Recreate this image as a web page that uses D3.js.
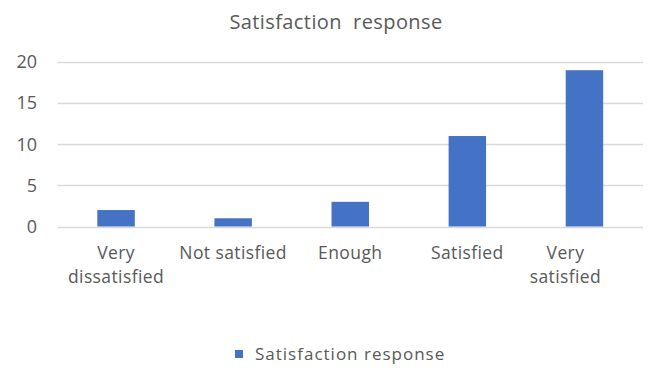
<!DOCTYPE html>
<html>
<head>
<meta charset="utf-8">
<script src="https://cdn.jsdelivr.net/npm/d3@7"></script>
<style>
	body { margin: 0; background: #fff; }
	text { font-family: 'Open Sans', 'Noto Sans', sans-serif; fill: #595959; }
</style>
</head>
<body>
<svg id="chart" width="660" height="368"></svg>
<script>
// data
var categories = ['Very dissatisfied', 'Not satisfied', 'Enough', 'Satisfied', 'Very satisfied'];
var categoryLines = [['Very', 'dissatisfied'], ['Not satisfied'], ['Enough'], ['Satisfied'], ['Very', 'satisfied']];
var responses = [2, 1, 3, 11, 19];
var yTicks = [0, 5, 10, 15, 20];
var seriesName = 'Satisfaction response';

var svg = d3.select('svg#chart');
var plotLeft = 57.5, plotRight = 643, plotTop = 62, plotBottom = 226.5;

var xScale = d3.scaleBand().domain(categories).range([plotLeft, plotRight]).paddingInner(0.68).paddingOuter(0.34);
var yScale = d3.scaleLinear().domain([0, 20]).range([plotBottom, plotTop]);

// title
svg.append('text')
	.attr('x', 336)
	.attr('y', 29)
	.attr('text-anchor', 'middle')
	.style('font-size', '20px')
	.style('letter-spacing', '0.4px')
	.style('white-space', 'pre')
	.text('Satisfaction  response');

// gridlines
svg.append('g')
	.selectAll('line')
	.data(yTicks)
	.enter()
	.append('line')
	.attr('x1', plotLeft)
	.attr('x2', plotRight)
	.attr('y1', function (d) { return Math.round(yScale(d)) + 0.5; })
	.attr('y2', function (d) { return Math.round(yScale(d)) + 0.5; })
	.style('stroke', '#d9d9d9')
	.style('stroke-width', '1.5px');

// y labels
svg.append('g')
	.selectAll('text')
	.data(yTicks)
	.enter()
	.append('text')
	.attr('x', 37)
	.attr('y', function (d) { return yScale(d); })
	.attr('dy', '0.35em')
	.attr('text-anchor', 'end')
	.style('font-size', '18px')
	.text(function (d) { return d; });

// bars
svg.append('g')
	.selectAll('rect')
	.data(responses)
	.enter()
	.append('rect')
	.attr('x', function (d, i) { return xScale(categories[i]); })
	.attr('width', xScale.bandwidth())
	.attr('y', function (d) { return yScale(d); })
	.attr('height', function (d) { return yScale(0) - yScale(d); })
	.style('fill', '#4472c4');

// category labels (the last one sits a bit left of its bar, as in the original)
svg.append('g')
	.selectAll('text')
	.data(categories)
	.enter()
	.append('text')
	.attr('x', function (d, i) {
		var cx = xScale(d) + xScale.bandwidth() / 2;
		return i === categories.length - 1 ? cx - 19 : cx;
	})
	.attr('y', 259)
	.attr('text-anchor', 'middle')
	.style('font-size', '17.5px')
	.style('letter-spacing', '0.4px')
	.each(function (d, i) {
		var t = d3.select(this);
		var x = t.attr('x');
		t.selectAll('tspan')
			.data(categoryLines[i])
			.enter()
			.append('tspan')
			.attr('x', x)
			.attr('dy', function (l, j) { return j === 0 ? 0 : 24; })
			.text(function (l) { return l; });
	});

// legend
var legend = svg.append('g').attr('transform', 'translate(235, 354)');
legend.append('rect')
	.attr('x', 0)
	.attr('y', -4)
	.attr('width', 8)
	.attr('height', 8)
	.style('fill', '#4472c4');
legend.append('text')
	.attr('x', 20)
	.attr('y', 0)
	.attr('dy', '0.35em')
	.style('font-size', '17px')
	.style('letter-spacing', '1px')
	.text(seriesName);
</script>
</body>
</html>
